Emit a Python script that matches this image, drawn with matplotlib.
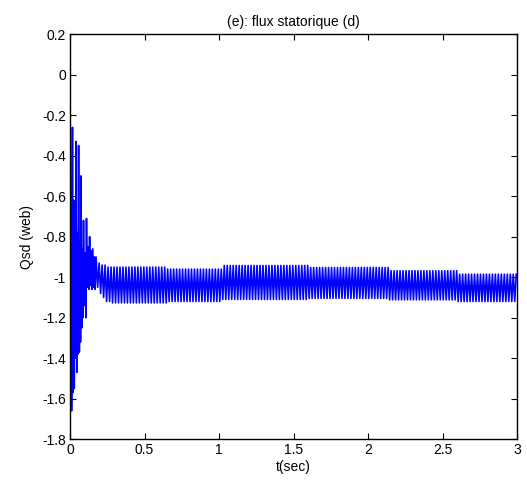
import numpy as np
import matplotlib
matplotlib.use("Agg")
import matplotlib.pyplot as plt
from matplotlib.ticker import FormatStrFormatter

# start-up transient, peaks (time s, flux web)
trans_t = [0.000, 0.004, 0.007, 0.010, 0.016, 0.020, 0.024, 0.028, 0.033,
           0.037, 0.040, 0.045, 0.049, 0.053, 0.057, 0.062, 0.067, 0.070,
           0.073, 0.078, 0.081, 0.085, 0.090, 0.096, 0.101, 0.106, 0.110,
           0.115, 0.120, 0.126, 0.131, 0.136, 0.141, 0.146, 0.152, 0.158,
           0.163, 0.168, 0.174]
trans_v = [0.04, -1.46, -0.58, -1.66, -0.26, -1.57, -0.62, -1.55, -0.70,
           -1.40, -0.33, -1.47, -0.78, -1.38, -0.35, -1.37, -0.82, -1.32,
           -0.50, -1.25, -0.86, -1.20, -0.72, -1.14, -0.88, -1.20, -0.71,
           -1.05, -0.85, -1.06, -0.80, -1.04, -0.87, -1.06, -0.86, -1.05,
           -0.90, -1.06, -0.90]

# steady band: envelope levels, each held from its start time
env_t   = [0.175, 0.19, 0.21, 0.24, 0.28, 0.65, 1.02, 1.60, 2.14, 2.60]
env_top = [-0.91, -0.93, -0.94, -0.95, -0.95, -0.96, -0.942, -0.952, -0.968, -0.985]
env_bot = [-1.05, -1.08, -1.10, -1.12, -1.127, -1.12, -1.11, -1.105, -1.112, -1.12]

f_osc = 50.0   # Hz, supply frequency of the ripple
t_end = 3.0

half = 0.5 / f_osc
band_t = np.arange(env_t[0] + half, t_end + half / 2, half)
idx = np.searchsorted(env_t, band_t, side="right") - 1
band_v = np.where(np.arange(band_t.size) % 2 == 0,
                  np.take(env_bot, idx), np.take(env_top, idx))

t = np.concatenate([trans_t, band_t])
qsd = np.concatenate([trans_v, band_v])

plt.rcParams['font.family'] = ['Liberation Sans', 'DejaVu Sans']
plt.rcParams['font.size'] = 10

fig = plt.figure(figsize=(5.27, 4.88), dpi=100)
ax = fig.add_axes([0.133, 0.100, 0.848, 0.830])
ax.plot(t, qsd, color='#0000ff', linewidth=1.2)

ax.set_xlim(0, 3)
ax.set_ylim(-1.8, 0.2)
ax.set_xticks(np.arange(0, 3.01, 0.5))
ax.set_yticks(np.arange(-1.8, 0.21, 0.2))
ax.xaxis.set_major_formatter(FormatStrFormatter('%g'))
ax.yaxis.set_major_formatter(plt.FuncFormatter(lambda v, p: '%g' % round(v, 1) if abs(v) > 1e-9 else '0'))
ax.tick_params(direction='in', length=4, width=0.8, top=True, right=True,
               labelsize=10, pad=3)
for s in ax.spines.values():
    s.set_linewidth(1.0)

ax.set_title('(e): flux statorique (d)', fontsize=10, pad=6)
ax.set_xlabel('t(sec)', fontsize=10, labelpad=2)
ax.set_ylabel('Qsd (web)', fontsize=10, labelpad=6)

fig.savefig('out.png', dpi=100)
